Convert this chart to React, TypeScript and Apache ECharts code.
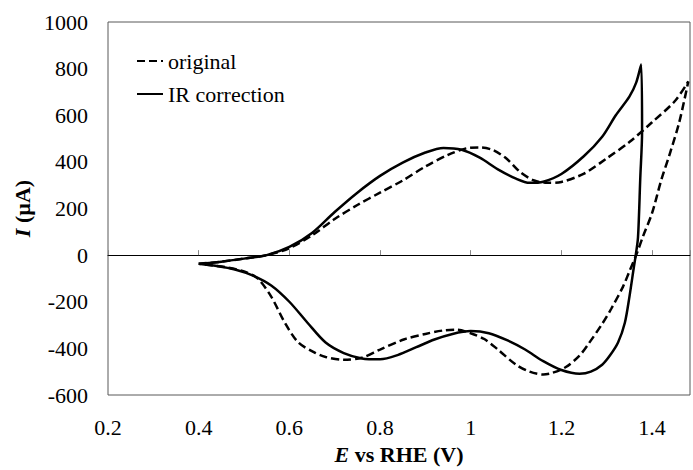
import React, { useEffect, useRef } from "react";
import * as echarts from "echarts";

// x-axis tick values (E vs RHE, V)
const xTicks = [0.2, 0.4, 0.6, 0.8, 1.0, 1.2, 1.4];
// y-axis tick labels (I, µA)
const yTicks = [-600, -400, -200, 0, 200, 400, 600, 800, 1000];

// "original" curve (dashed): [E, I]
const originalAnodic: [number, number][] = [
  [0.40, -37], [0.45, -28], [0.50, -15], [0.55, 0], [0.60, 30], [0.65, 85],
  [0.70, 155], [0.75, 215], [0.80, 268], [0.85, 320], [0.90, 380], [0.95, 430],
  [0.99, 458], [1.02, 462], [1.05, 450], [1.08, 412], [1.11, 355], [1.14, 320],
  [1.17, 310], [1.20, 314], [1.25, 350], [1.30, 415], [1.35, 485], [1.40, 570],
  [1.45, 660], [1.48, 745],
];
const originalCathodic: [number, number][] = [
  [1.46, 570], [1.44, 440], [1.42, 320], [1.40, 180], [1.38, 80], [1.365, 0],
  [1.35, -70], [1.336, -135], [1.31, -230], [1.29, -295], [1.26, -380],
  [1.24, -431], [1.21, -480], [1.18, -505], [1.16, -512], [1.13, -500],
  [1.10, -470], [1.06, -405], [1.03, -360], [1.00, -335], [0.97, -320],
  [0.94, -323], [0.90, -338], [0.854, -361], [0.80, -405], [0.76, -440],
  [0.72, -449], [0.68, -437], [0.655, -417], [0.62, -375], [0.59, -290],
  [0.56, -178], [0.53, -100], [0.50, -70], [0.46, -52], [0.40, -37],
];

// "IR correction" curve (solid): [E, I]
const irAnodic: [number, number][] = [
  [0.40, -37], [0.45, -28], [0.50, -15], [0.55, 0], [0.60, 35], [0.65, 95],
  [0.70, 185], [0.75, 268], [0.80, 340], [0.85, 397], [0.90, 440], [0.94, 460],
  [0.98, 452], [1.02, 418], [1.06, 368], [1.10, 328], [1.13, 310], [1.16, 315],
  [1.20, 348], [1.25, 425], [1.29, 508], [1.32, 600], [1.35, 680], [1.365, 740],
  [1.376, 818],
];
const irCathodic: [number, number][] = [
  [1.378, 530], [1.374, 330], [1.369, 76], [1.364, 0], [1.36, -50],
  [1.35, -180], [1.34, -290], [1.325, -375], [1.307, -431], [1.29, -470],
  [1.265, -500], [1.24, -509], [1.20, -493], [1.16, -455], [1.12, -405],
  [1.08, -365], [1.04, -335], [1.00, -326], [0.96, -338], [0.92, -362],
  [0.88, -395], [0.84, -428], [0.80, -447], [0.76, -443], [0.72, -420],
  [0.68, -375], [0.64, -290], [0.60, -200], [0.56, -130], [0.52, -88],
  [0.48, -62], [0.44, -47], [0.40, -37],
];

const FONT = "Liberation Serif";
const FS = 22;
const X_MIN = 0.2;
const X_MAX = 1.4837;

export default function App() {
  const ref = useRef<HTMLDivElement>(null);
  useEffect(() => {
    document.body.style.margin = "0";
    if (!ref.current) return;
    const chart = echarts.init(ref.current, undefined, { renderer: "svg" });
    const isTick = (v: number) => xTicks.some((t) => Math.abs(t - v) < 1e-6);
    const plain = {
      fontFamily: FONT,
      fontSize: FS,
      color: "#000",
      fontWeight: "normal" as const,
      fontStyle: "normal" as const,
    };
    const bold = { ...plain, fontWeight: "bold" as const };
    const italicBold = { ...bold, fontStyle: "italic" as const };
    chart.setOption({
      animation: false,
      textStyle: { fontFamily: FONT, color: "#000" },
      grid: {
        left: 108,
        top: 22,
        right: -1,
        bottom: 70,
        show: true,
        borderColor: "#595959",
        borderWidth: 1,
        backgroundColor: "transparent",
      },
      legend: {
        left: 131,
        top: 45,
        orient: "vertical",
        itemWidth: 26,
        itemHeight: 14,
        itemGap: 11,
        itemStyle: { opacity: 0 },
        textStyle: plain,
        data: ["original", "IR correction"],
      },
      xAxis: [
        {
          type: "value",
          min: X_MIN,
          max: X_MAX,
          interval: 0.2,
          axisLine: { show: false, onZero: false },
          axisTick: { show: false },
          splitLine: { show: false },
          axisLabel: {
            ...plain,
            margin: 21,
            formatter: (v: number) => (isTick(v) ? String(+v.toFixed(1)) : ""),
          },
          name: "{i|E}{b| vs RHE (V)}",
          nameLocation: "middle",
          nameGap: 48,
          nameTextStyle: { ...bold, rich: { i: italicBold, b: bold } },
        },
        {
          type: "value",
          min: X_MIN,
          max: X_MAX,
          interval: 0.2,
          axisLine: { show: true, onZero: true, lineStyle: { color: "#000", width: 1 } },
          axisTick: { show: true, length: 5, lineStyle: { color: "#888", width: 1 } },
          axisLabel: { show: false },
          splitLine: { show: false },
        },
      ],
      yAxis: {
        type: "value",
        min: yTicks[0],
        max: yTicks[yTicks.length - 1],
        interval: 200,
        axisLine: { show: false },
        axisTick: { show: false },
        splitLine: { show: false },
        axisLabel: { ...plain, margin: 20, formatter: (v: number) => String(v) },
        name: "{i|I}{b| (µA)}",
        nameLocation: "middle",
        nameGap: 60,
        nameRotate: 90,
        nameTextStyle: { ...bold, rich: { i: italicBold, b: bold } },
      },
      series: [
        {
          name: "original",
          type: "line",
          xAxisIndex: 0,
          symbol: "none",
          smooth: 0.3,
          data: [...originalAnodic, ...originalCathodic],
          lineStyle: { color: "#000", width: 2.5, type: [8, 4] },
          itemStyle: { color: "#000" },
        },
        {
          name: "IR correction",
          type: "line",
          xAxisIndex: 0,
          symbol: "none",
          smooth: 0.3,
          data: [...irAnodic, ...irCathodic],
          lineStyle: { color: "#000", width: 2.5 },
          itemStyle: { color: "#000" },
        },
      ],
    });
    return () => chart.dispose();
  }, []);
  return <div ref={ref} style={{ width: 693, height: 470 }} />;
}
